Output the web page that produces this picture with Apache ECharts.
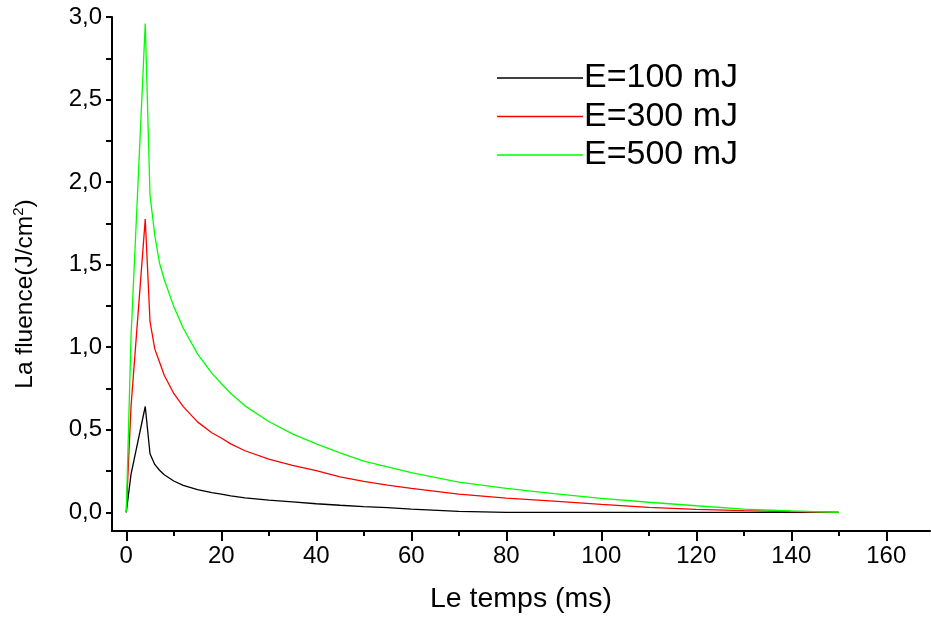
<!DOCTYPE html>
<html>
<head>
<meta charset="utf-8">
<script src="https://cdn.jsdelivr.net/npm/echarts@6/dist/echarts.min.js"></script>
<style>
  html, body { margin: 0; padding: 0; background: #fff; }
  #chart { width: 931px; height: 619px; }
</style>
</head>
<body>
<div id="chart"></div>
<script>
// Time samples (ms)
const temps = [0, 1, 4, 5, 6, 7, 8, 10, 12, 15, 18, 20, 22, 25, 30, 35, 40, 45, 50, 55, 60, 70, 80, 90, 100, 110, 120, 130, 140, 150];

// Fluence (J/cm²) for each pulse energy
const fluence100 = [0, 0.23, 0.641, 0.355, 0.29, 0.255, 0.228, 0.19, 0.163, 0.138, 0.119, 0.11, 0.10, 0.088, 0.074, 0.063, 0.052, 0.043, 0.035, 0.028, 0.02, 0.006, 0, 0, 0, 0, 0, 0, 0, 0];
const fluence300 = [0, 0.64, 1.776, 1.157, 0.99, 0.91, 0.83, 0.72, 0.64, 0.548, 0.482, 0.45, 0.415, 0.373, 0.322, 0.284, 0.252, 0.215, 0.187, 0.165, 0.145, 0.11, 0.086, 0.068, 0.048, 0.03, 0.018, 0.01, 0.004, 0];
const fluence500 = [0, 1.06, 2.96, 1.92, 1.68, 1.51, 1.41, 1.246, 1.115, 0.96, 0.843, 0.78, 0.72, 0.645, 0.55, 0.475, 0.415, 0.36, 0.31, 0.275, 0.24, 0.183, 0.145, 0.113, 0.085, 0.061, 0.04, 0.02, 0.008, 0];

const seriesNames = ['E=100 mJ', 'E=300 mJ', 'E=500 mJ'];
const seriesColors = ['#000000', '#ff0000', '#00ff00'];

// Axis ticks and labels
const xLabelValues = [0, 20, 40, 60, 80, 100, 120, 140, 160];
const xMinorValues = [10, 30, 50, 70, 90, 110, 130, 150];
const yLabelValues = [0, 0.5, 1.0, 1.5, 2.0, 2.5, 3.0];
const yTickValues = [0, 0.25, 0.5, 0.75, 1.0, 1.25, 1.5, 1.75, 2.0, 2.25, 2.5, 2.75, 3.0];

const tickFont = "'Liberation Sans Narrow', 'Liberation Sans', Arial, sans-serif";
const textFont = "'Liberation Sans', Arial, sans-serif";

const pairs = (ys) => temps.map((t, i) => [t, ys[i]]);
const allFluence = [fluence100, fluence300, fluence500];

const chart = echarts.init(document.getElementById('chart'), null, { renderer: 'canvas' });

const tickStyle = { color: '#000', width: 2 };

chart.setOption({
  animation: false,
  backgroundColor: '#fff',
  grid: { left: 112, right: 1, top: 17, bottom: 79, containLabel: false },
  legend: {
    orient: 'vertical',
    left: 497,
    top: 61,
    padding: 0,
    icon: 'rect',
    itemWidth: 86,
    itemHeight: 1.4,
    itemGap: 4.5,
    data: seriesNames,
    textStyle: { fontFamily: textFont, fontSize: 34, color: '#000', padding: [0, 0, 0, -4] }
  },
  xAxis: [
    {
      type: 'value',
      min: -3,
      max: 169.2,
      name: 'Le temps (ms)',
      nameLocation: 'middle',
      nameGap: 54,
      nameTextStyle: { fontFamily: textFont, fontSize: 28.5, color: '#000' },
      axisLine: { show: true, onZero: false, lineStyle: tickStyle },
      axisTick: { show: true, customValues: xLabelValues, length: 10, lineStyle: tickStyle },
      axisLabel: {
        customValues: xLabelValues,
        fontFamily: tickFont, fontSize: 24, color: '#000', margin: 13
      },
      splitLine: { show: false }
    },
    {
      // minor ticks between labelled values
      type: 'value',
      position: 'bottom',
      min: -3,
      max: 169.2,
      axisLine: { show: false, onZero: false },
      axisTick: { show: true, customValues: xMinorValues, length: 5, lineStyle: tickStyle },
      axisLabel: { show: false },
      splitLine: { show: false }
    }
  ],
  yAxis: {
    type: 'value',
    min: -0.113,
    max: 3.0,
    name: '{a|La fluence(J/cm}{s|2}{a|)}',
    nameLocation: 'middle',
    nameGap: 72,
    nameRotate: 90,
    nameTextStyle: {
      padding: [0, 40, 0, 0],
      rich: {
        a: { fontFamily: textFont, fontSize: 24.5, color: '#000' },
        s: { fontFamily: textFont, fontSize: 15, color: '#000', verticalAlign: 'top', padding: [0, 0, 14, 0] }
      }
    },
    axisLine: { show: true, onZero: false, lineStyle: tickStyle },
    axisTick: { show: true, customValues: yTickValues, length: 6, lineStyle: tickStyle },
    axisLabel: {
      customValues: yLabelValues,
      fontFamily: tickFont, fontSize: 24, color: '#000', margin: 10,
      formatter: (v) => v.toFixed(1).replace('.', ',')
    },
    splitLine: { show: false }
  },
  series: seriesNames.map((name, i) => ({
    name: name,
    type: 'line',
    xAxisIndex: 0,
    data: pairs(allFluence[i]),
    symbol: 'none',
    smooth: false,
    color: seriesColors[i],
    lineStyle: { color: seriesColors[i], width: 1.3 }
  }))
});
</script>
</body>
</html>
